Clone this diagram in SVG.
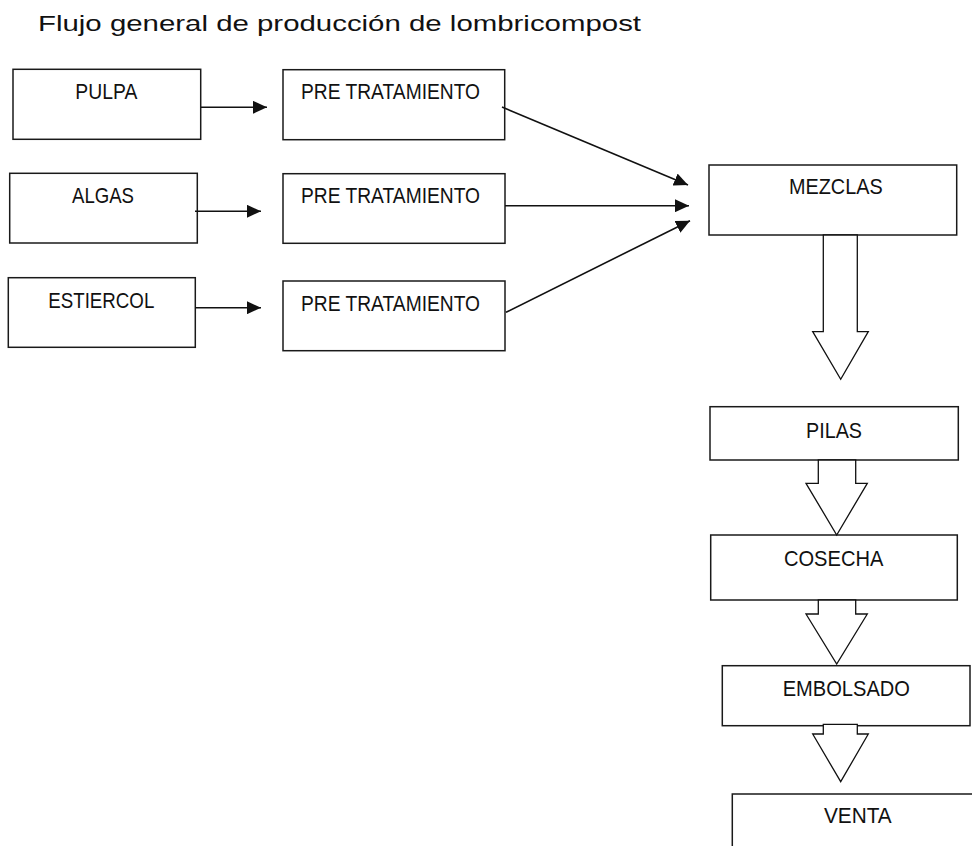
<svg xmlns="http://www.w3.org/2000/svg" width="972" height="846" viewBox="0 0 972 846">
<style>
.box{fill:#fff;stroke:#1a1a1a;stroke-width:1.5}
.lbl{font-family:"Liberation Sans",Arial,sans-serif;font-size:22px;fill:#111}
.title{font-family:"Liberation Sans",Arial,sans-serif;font-size:22px;fill:#111}
.ln{stroke:#111;stroke-width:1.6;fill:none}
.blk{fill:#fff;stroke:#111;stroke-width:1.3;stroke-linejoin:miter}
</style>
<defs>
<marker id="ah" markerUnits="userSpaceOnUse" viewBox="0 0 14 13" refX="14" refY="6.5" markerWidth="14" markerHeight="13" orient="auto">
<path d="M0,0 L14,6.5 L0,13 z" fill="#111"/>
</marker>
</defs>
<rect width="972" height="846" fill="#fff"/>
<text class="title" x="38" y="31" textLength="603" lengthAdjust="spacingAndGlyphs">Flujo general de producción de lombricompost</text>

<g id="pulpa"><rect class="box" x="13" y="69.3" width="187.7" height="70"/><text class="lbl" x="75.3" y="99" textLength="62" lengthAdjust="spacingAndGlyphs">PULPA</text></g>
<g id="pre1"><rect class="box" x="283" y="69.7" width="221.7" height="70"/><text class="lbl" x="301" y="99" textLength="179" lengthAdjust="spacingAndGlyphs">PRE TRATAMIENTO</text></g>
<g id="algas"><rect class="box" x="9.7" y="173.3" width="187.6" height="69.7"/><text class="lbl" x="72" y="202.7" textLength="62" lengthAdjust="spacingAndGlyphs">ALGAS</text></g>
<g id="pre2"><rect class="box" x="283" y="173.7" width="222" height="69.6"/><text class="lbl" x="301" y="202.7" textLength="179" lengthAdjust="spacingAndGlyphs">PRE TRATAMIENTO</text></g>
<g id="estiercol"><rect class="box" x="8.3" y="277.7" width="187" height="69.6"/><text class="lbl" x="48.3" y="307.7" textLength="106" lengthAdjust="spacingAndGlyphs">ESTIERCOL</text></g>
<g id="pre3"><rect class="box" x="283" y="281" width="222" height="69.7"/><text class="lbl" x="301" y="310.7" textLength="179" lengthAdjust="spacingAndGlyphs">PRE TRATAMIENTO</text></g>
<g id="mezclas"><rect class="box" x="709" y="165" width="247.7" height="70"/><text class="lbl" x="789" y="194.3" textLength="93.7" lengthAdjust="spacingAndGlyphs">MEZCLAS</text></g>
<g id="pilas"><rect class="box" x="710" y="406.7" width="248.3" height="53.3"/><text class="lbl" x="806" y="437.7" textLength="56" lengthAdjust="spacingAndGlyphs">PILAS</text></g>
<g id="cosecha"><rect class="box" x="710.7" y="535" width="246.6" height="65"/><text class="lbl" x="784" y="565.7" textLength="99.3" lengthAdjust="spacingAndGlyphs">COSECHA</text></g>
<g id="embolsado"><rect class="box" x="722.3" y="665.7" width="247.7" height="60"/><text class="lbl" x="782.7" y="696" textLength="127.3" lengthAdjust="spacingAndGlyphs">EMBOLSADO</text></g>
<g id="venta"><path class="box" d="M732.3,850 V794 H975"/><text class="lbl" x="824" y="823.3" textLength="67.7" lengthAdjust="spacingAndGlyphs">VENTA</text></g>

<g id="connectors">
<line class="ln" x1="201" y1="107.3" x2="267" y2="107.3" marker-end="url(#ah)"/>
<line class="ln" x1="195" y1="211.3" x2="261" y2="211.3" marker-end="url(#ah)"/>
<line class="ln" x1="195" y1="307.7" x2="261" y2="307.7" marker-end="url(#ah)"/>
<line class="ln" x1="502" y1="107" x2="688" y2="185" marker-end="url(#ah)"/>
<line class="ln" x1="505" y1="205.7" x2="689" y2="205.7" marker-end="url(#ah)"/>
<line class="ln" x1="506" y1="312.3" x2="690" y2="220.7" marker-end="url(#ah)"/>
<path class="blk" d="M823.3,235 H857.3 V331.7 H868.3 L840.7,379.3 L812.7,331.7 H823.3 Z"/>
<path class="blk" d="M818.3,460 H855.7 V483.3 H867.3 L836.7,535 L806,483.3 H818.3 Z"/>
<path class="blk" d="M818.3,600 H855.7 V614 H867.3 L836.7,664 L806,614 H818.3 Z"/>
<path class="blk" d="M823.3,724.3 H857.3 V734 H868.3 L840.7,781.7 L812.7,734 H823.3 Z"/>
</g>
</svg>
